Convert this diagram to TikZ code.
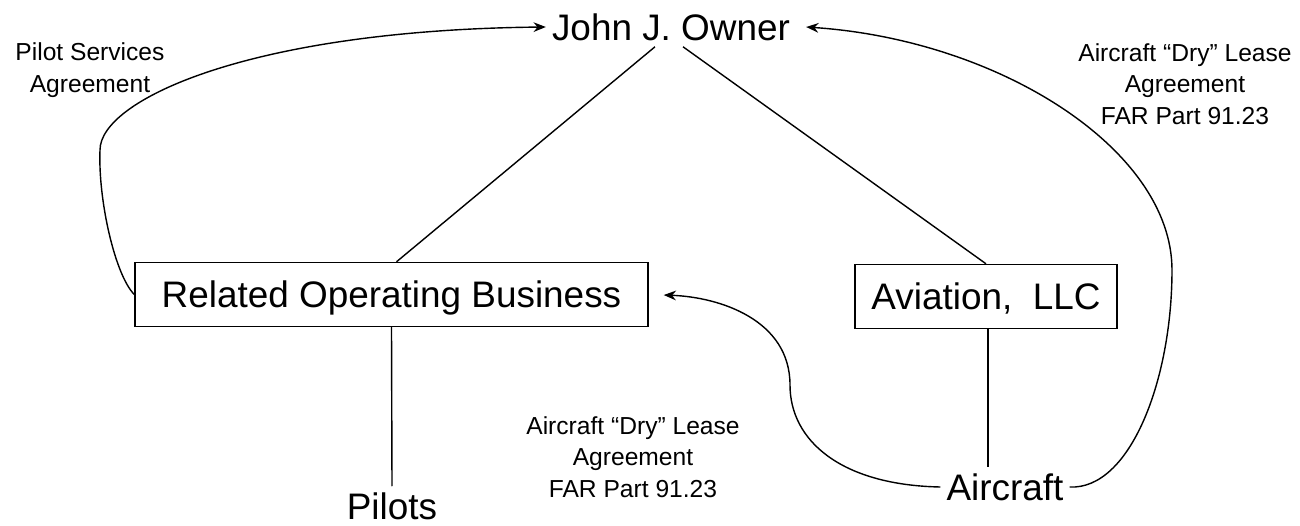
\documentclass[tikz,border=0pt]{standalone}
\usepackage{fontspec}
\setmainfont{Liberation Sans}
\usetikzlibrary{arrows.meta}
\tikzstyle{arrow} = [line width=0.8pt,-{Stealth[length=7pt,width=5.5pt]}]
\tikzstyle{link} = [line width=0.8pt]
\tikzstyle{box} = [draw=black, line width=0.8pt, minimum height=1.28cm, text depth=0pt]
\tikzstyle{big} = [font=\fontsize{21}{25}\selectfont]
\tikzstyle{note} = [align=center, font=\fontsize{14}{18}\selectfont]

\begin{document}
\begin{tikzpicture}
        \useasboundingbox (0,0) rectangle (26,-10.5);

        % Owner on top
        \node (jjo) at (13.42,-0.54) [big] {John J. Owner};

        % Boxes
        \node (rob) at (7.83,-5.89) [box, big, minimum width=10.26cm] {Related Operating Business};
        \node (avi) at (19.72,-5.93) [box, big, minimum width=5.24cm] {Aviation,~ LLC};

        % Bottom row
        \node (pil) at (7.84,-10.12) [big] {Pilots};
        \node (acr) at (20.1,-9.74) [big] {Aircraft};

        % Ownership lines
        \draw [link] ([xshift=-0.32cm]jjo.south) -- ([xshift=0.1cm]rob.north);
        \draw [link] ([xshift=0.24cm]jjo.south) -- (avi.north);
        \draw [link] (rob.south) -- (pil.north);
        \draw [link] ([xshift=0.04cm]avi.south) -- ([xshift=0.04cm]avi.south |- acr.north);

        % Agreements
        \draw [arrow] (rob.west) .. controls (2.3,-5.5) and (1.96,-4.0) .. (2.0,-3.0)
              .. controls (2.0,-2.0) and (5.0,-0.6) .. (jjo.west);
        \draw [arrow] (acr.east) .. controls (22.6,-9.8) and (23.44,-7.6) .. (23.44,-5.4)
              .. controls (23.44,-3.0) and (20.0,-0.8) .. ([xshift=0.2cm]jjo.east);
        \draw [arrow, shorten >=0.3cm] (acr.west) .. controls (16.8,-9.7) and (15.8,-8.8) .. (15.8,-7.7)
              .. controls (15.8,-6.4) and (14.4,-5.94) .. (rob.east);

        % Labels
        \node (psa) at (1.8,-1.4) [note] {Pilot Services\\Agreement};
        \node (dlr) at (23.7,-1.68) [note] {Aircraft “Dry” Lease\\Agreement\\FAR Part 91.23};
        \node (dlb) at (12.66,-9.14) [note] {Aircraft “Dry” Lease\\Agreement\\FAR Part 91.23};
\end{tikzpicture}
\end{document}
